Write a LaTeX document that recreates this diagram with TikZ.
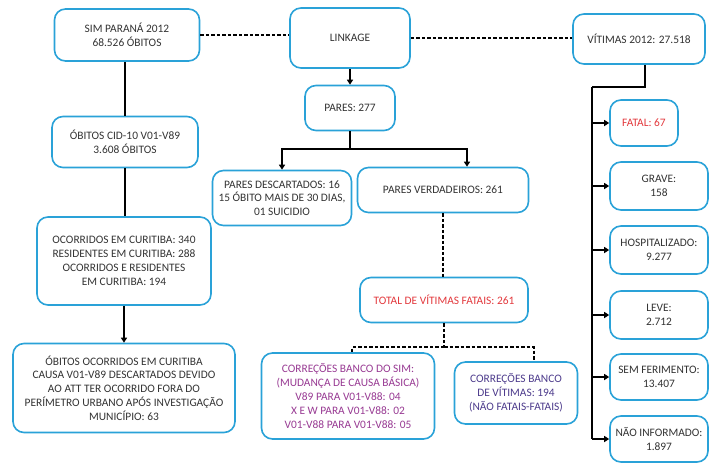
\documentclass[tikz,border=0pt]{standalone}
\usepackage{fontspec}
\setmainfont{Carlito}
\usetikzlibrary{arrows.meta}
\definecolor{boxblue}{HTML}{2AA2D8}
\definecolor{txt}{HTML}{333333}
\definecolor{fatalred}{HTML}{E3393D}
\definecolor{simpurple}{HTML}{983A93}
\definecolor{vitpurple}{HTML}{4D3B8C}
\tikzset{
  box/.style={draw=boxblue, line width=1.6pt, rounded corners=11pt, fill=white,
    align=center, text=txt, inner sep=2pt, font=\fontsize{11.4}{13.8}\selectfont},
  link/.style={line width=1.4pt, draw=black},
  dashlink/.style={line width=1.2pt, draw=black, dash pattern=on 3.5pt off 2pt},
  tip/.style={-{Triangle[length=5pt,width=6pt]}},
}
\begin{document}
\begin{tikzpicture}[x=1pt,y=-1pt]
\useasboundingbox (0,0) rectangle (720,464);
\fill[white] (0,0) rectangle (720,464);

% top row
\node[box, minimum width=145pt, minimum height=52pt] (sim) at (127,35) {SIM PARANÁ 2012\\68.526 ÓBITOS};
\node[box, minimum width=120pt, minimum height=60pt] (link) at (350,38) {LINKAGE};
\node[box, minimum width=132pt, minimum height=50pt] (vit) at (639,39) {VÍTIMAS 2012: 27.518};

% linkage branch
\node[box, minimum width=90pt, minimum height=45pt] (pares) at (350,108) {PARES: 277};
\node[box, minimum width=139pt, minimum height=55pt] (desc) at (282,198) {PARES DESCARTADOS: 16\\15 ÓBITO MAIS DE 30 DIAS,\\01 SUICIDIO};
\node[box, minimum width=171pt, minimum height=45pt] (verd) at (443,190) {PARES VERDADEIROS: 261};
\node[box, minimum width=168pt, minimum height=45pt, text=fatalred] (total) at (444,300) {TOTAL DE VÍTIMAS FATAIS: 261};
\node[box, minimum width=173pt, minimum height=86pt, text=simpurple] (corsim) at (348,396) {CORREÇÕES BANCO DO SIM:\\(MUDANÇA DE CAUSA BÁSICA)\\V89 PARA V01-V88: 04\\X E W PARA V01-V88: 02\\V01-V88 PARA V01-V88: 05};
\node[box, minimum width=123pt, minimum height=62pt, text=vitpurple] (corvit) at (516,393) {CORREÇÕES BANCO\\DE VÍTIMAS: 194\\(NÃO FATAIS-FATAIS)};

% left column
\node[box, minimum width=146pt, minimum height=51pt] (cid) at (125,142) {ÓBITOS CID-10 V01-V89\\3.608 ÓBITOS};
\node[box, minimum width=174pt, minimum height=88pt] (ocorr) at (124,261) {OCORRIDOS EM CURITIBA: 340\\RESIDENTES EM CURITIBA: 288\\OCORRIDOS E RESIDENTES\\EM CURITIBA: 194};
\node[box, minimum width=222pt, minimum height=89pt] (obitos) at (124,388) {ÓBITOS OCORRIDOS EM CURITIBA\\CAUSA V01-V89 DESCARTADOS DEVIDO\\AO ATT TER OCORRIDO FORA DO\\PERÍMETRO URBANO APÓS INVESTIGAÇÃO\\MUNICÍPIO: 63};

% right column
\node[box, minimum width=68pt, minimum height=46pt, text=fatalred] (fatal) at (644,123) {FATAL: 67};
\node[box, minimum width=98pt, minimum height=48pt] (grave) at (659,186) {GRAVE:\\158};
\node[box, minimum width=98pt, minimum height=48pt] (hosp) at (659,250) {HOSPITALIZADO:\\9.277};
\node[box, minimum width=98pt, minimum height=48pt] (leve) at (659,315) {LEVE:\\2.712};
\node[box, minimum width=98pt, minimum height=46pt] (sem) at (659,377) {SEM FERIMENTO:\\13.407};
\node[box, minimum width=98pt, minimum height=46pt] (nao) at (659,439) {NÃO INFORMADO:\\1.897};

% junction points
\coordinate (split) at (350,149);
\coordinate (dsplit) at (444,347);
\coordinate (trunk) at (592,87);

% dashed links on the top row
\draw[dashlink] (sim.east) -- (sim.east -| link.west);
\draw[dashlink] (link.east) -- (link.east -| vit.west);

% linkage branch
\draw[link, tip] (link.south) -- (pares.north);
\draw[link] (pares.south) -- (split);
\draw[link, tip] (split) -| (desc.north);
\draw[link, tip] (split) -| ([xshift=24pt]verd.north);
\draw[dashlink] (verd.south) -- (verd.south |- total.north);
\draw[dashlink] (total.south) -- (dsplit);
\draw[dashlink] (dsplit) -| ([xshift=4pt]corsim.north);
\draw[dashlink] (dsplit) -| ([xshift=18pt]corvit.north);

% left column
\draw[link] (cid.north |- sim.south) -- (cid.north);
\draw[link] (cid.south) -- (cid.south |- ocorr.north);
\draw[link, tip] (ocorr.south) -- (obitos.north);

% right column
\draw[link] ([xshift=6pt]vit.south) |- (trunk);
\draw[link] (trunk) -- (trunk |- nao.west);
\draw[link, tip] (trunk |- fatal.west) -- (fatal.west);
\draw[link, tip] (trunk |- grave.west) -- (grave.west);
\draw[link, tip] (trunk |- hosp.west) -- (hosp.west);
\draw[link, tip] (trunk |- leve.west) -- (leve.west);
\draw[link, tip] (trunk |- sem.west) -- (sem.west);
\draw[link, tip] (trunk |- nao.west) -- (nao.west);
\end{tikzpicture}
\end{document}
